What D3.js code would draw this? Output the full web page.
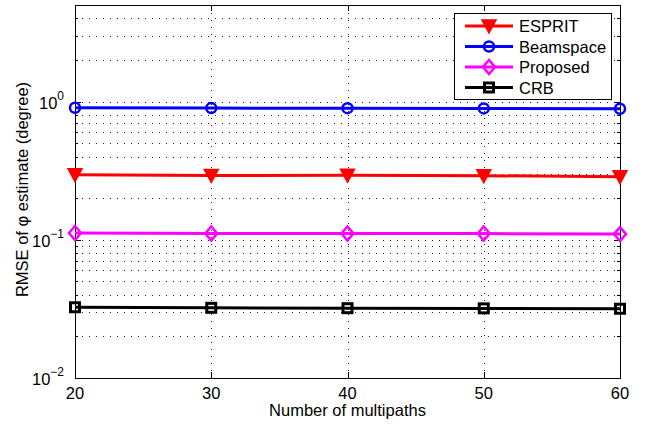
<!DOCTYPE html>
<html>
<head>
<meta charset="utf-8">
<script src="https://cdn.jsdelivr.net/npm/d3@7"></script>
<style>
body { margin: 0; background: #fff; }
text { font-family: "Liberation Sans", Arial, sans-serif; }
</style>
</head>
<body>
<div id="chart"></div>
<script>
// data
var multipaths = [20, 30, 40, 50, 60];
var esprit    = [0.296, 0.292, 0.293, 0.291, 0.286];
var beamspace = [0.902, 0.897, 0.896, 0.893, 0.888];
var proposed  = [0.112, 0.111, 0.111, 0.111, 0.110];
var crb       = [0.0325, 0.0322, 0.0320, 0.0319, 0.0317];
var xTicks = [20, 30, 40, 50, 60];
var yDecades = [-2, -1, 0];

var series = [
    {name: "ESPRIT", values: esprit, color: "#ff0000", marker: "tri"},
    {name: "Beamspace", values: beamspace, color: "#0000ff", marker: "circle"},
    {name: "Proposed", values: proposed, color: "#ff00ff", marker: "diamond"},
    {name: "CRB", values: crb, color: "#000000", marker: "square"}
];

var width = 655, height = 425;
var margin = {left: 75, right: 35, top: 5, bottom: 47};

var svg = d3.select("#chart").append("svg")
    .attr("width", width)
    .attr("height", height);

var x = d3.scaleLinear().domain([20, 60]).range([margin.left, width - margin.right]);
var y = d3.scaleLog().domain([0.01, 5]).range([height - margin.bottom, margin.top]);

var x0 = x.range()[0], x1 = x.range()[1], y0 = y.range()[0], y1 = y.range()[1];

// minor ticks for log axis
var minorY = [];
[0.01, 0.1, 1].forEach(function(d){
    for (var k = 1; k <= 9; k++) {
        var v = d * k;
        if (v <= 5.0001) minorY.push(v);
    }
});

var grid = svg.append("g").attr("stroke", "#222").attr("stroke-width", 1)
    .attr("stroke-dasharray", "1,6").attr("shape-rendering", "crispEdges");

grid.selectAll(".gy").data(minorY.filter(function(v){ return v > 0.01 && v < 4.999; }))
    .enter().append("line")
    .attr("x1", x0).attr("x2", x1)
    .attr("y1", function(d){ return Math.round(y(d)) + 0.5; })
    .attr("y2", function(d){ return Math.round(y(d)) + 0.5; });

grid.selectAll(".gx").data(xTicks.slice(1, -1))
    .enter().append("line")
    .attr("y1", y0).attr("y2", y1)
    .attr("x1", function(d){ return Math.round(x(d)) + 0.5; })
    .attr("x2", function(d){ return Math.round(x(d)) + 0.5; });

// box
svg.append("rect")
    .attr("x", x0 + 0.5).attr("y", y1 + 0.5)
    .attr("width", x1 - x0).attr("height", y0 - y1)
    .attr("fill", "none").attr("stroke", "#000").attr("stroke-width", 1)
    .attr("shape-rendering", "crispEdges");

// ticks, inside on all four sides
var ticks = svg.append("g").attr("stroke", "#000").attr("shape-rendering", "crispEdges");
xTicks.forEach(function(d){
    var px = Math.round(x(d)) + 0.5;
    ticks.append("line").attr("x1", px).attr("x2", px).attr("y1", y0).attr("y2", y0 - 6);
    ticks.append("line").attr("x1", px).attr("x2", px).attr("y1", y1).attr("y2", y1 + 6);
});
minorY.forEach(function(d){
    var py = Math.round(y(d)) + 0.5;
    var major = Math.abs(Math.log10(d) - Math.round(Math.log10(d))) < 1e-6;
    var len = major ? 6 : 3;
    ticks.append("line").attr("x1", x0).attr("x2", x0 + len).attr("y1", py).attr("y2", py);
    ticks.append("line").attr("x1", x1).attr("x2", x1 - len).attr("y1", py).attr("y2", py);
});

// x tick labels
svg.append("g").selectAll("text").data(xTicks).enter().append("text")
    .attr("x", function(d){ return x(d); })
    .attr("y", y0 + 21)
    .attr("text-anchor", "middle")
    .attr("font-size", 16.5)
    .text(function(d){ return d; });

// y tick labels 10^n
var yl = svg.append("g").selectAll("text").data(yDecades).enter().append("text")
    .attr("x", x0 - 11)
    .attr("y", function(d){ return y(Math.pow(10, d)) + 7; })
    .attr("text-anchor", "end")
    .attr("font-size", 16.5);
yl.append("tspan").text("10");
yl.append("tspan").attr("dy", -9).attr("font-size", 12).text(function(d){ return d < 0 ? "\u2212" + (-d) : d; });

// axis titles
svg.append("text")
    .attr("x", (x0 + x1) / 2).attr("y", height - 9)
    .attr("text-anchor", "middle").attr("font-size", 16.5)
    .text("Number of multipaths");

svg.append("text")
    .attr("transform", "translate(28," + ((y0 + y1) / 2 - 2) + ") rotate(-90)")
    .attr("text-anchor", "middle").attr("font-size", 16.5)
    .text("RMSE of \u03c6 estimate (degree)");

// markers
function drawMarker(g, type, color, cx, cy) {
    if (type === "tri") {
        g.append("path").attr("d", "M" + (cx - 7) + "," + (cy - 6) + "L" + (cx + 7) + "," + (cy - 6) + "L" + cx + "," + (cy + 7) + "Z")
            .attr("fill", color).attr("stroke", color).attr("stroke-width", 1.5);
    } else if (type === "circle") {
        g.append("circle").attr("cx", cx).attr("cy", cy).attr("r", 5)
            .attr("fill", "none").attr("stroke", color).attr("stroke-width", 2.5);
    } else if (type === "diamond") {
        g.append("path").attr("d", "M" + cx + "," + (cy - 7) + "L" + (cx + 6) + "," + cy + "L" + cx + "," + (cy + 7) + "L" + (cx - 6) + "," + cy + "Z")
            .attr("fill", "none").attr("stroke", color).attr("stroke-width", 2.5);
    } else {
        g.append("rect").attr("x", cx - 4.5).attr("y", cy - 4.5).attr("width", 9).attr("height", 9)
            .attr("fill", "none").attr("stroke", color).attr("stroke-width", 3);
    }
}

var line = d3.line()
    .x(function(d, i){ return x(multipaths[i]); })
    .y(function(d){ return y(d); });

series.forEach(function(s){
    var g = svg.append("g");
    g.append("path").datum(s.values)
        .attr("d", line)
        .attr("fill", "none").attr("stroke", s.color).attr("stroke-width", 3);
    s.values.forEach(function(v, i){
        drawMarker(g, s.marker, s.color, x(multipaths[i]), y(v));
    });
});

// legend
var lg = svg.append("g");
lg.append("rect")
    .attr("x", 454.5).attr("y", 13.5).attr("width", 157).attr("height", 86)
    .attr("fill", "#fff").attr("stroke", "#000").attr("stroke-width", 1);
series.forEach(function(s, i){
    var ly = 26 + i * 20.5;
    lg.append("line").attr("x1", 465).attr("x2", 513).attr("y1", ly).attr("y2", ly)
        .attr("stroke", s.color).attr("stroke-width", 3);
    drawMarker(lg, s.marker, s.color, 489, ly);
    lg.append("text").attr("x", 519).attr("y", ly + 6)
        .attr("font-size", 16.5).text(s.name);
});
</script>
</body>
</html>
